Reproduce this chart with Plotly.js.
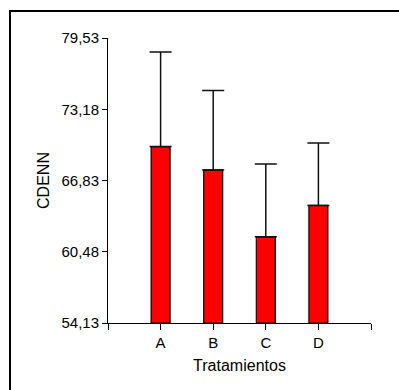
<!DOCTYPE html>
<html>
<head>
<meta charset="utf-8">
<script src="https://cdn.plot.ly/plotly-3.0.1.min.js"></script>
<style>
  html, body { margin: 0; padding: 0; background: #fff; overflow: hidden; }
  #chart { width: 399px; height: 390px; position: absolute; left: 0; top: 0; }
  #frame { position: absolute; left: 9px; top: 10px; width: 500px; height: 500px;
           border: 2px solid #000; pointer-events: none; }
</style>
</head>
<body>
<div id="chart"></div>
<div id="frame"></div>
<script>
const categories = ["A", "B", "C", "D"];
const means = [69.85, 67.77, 61.81, 64.61];
const errorsUp = [8.43, 7.08, 6.49, 5.57];
const yTickValues = [54.13, 60.48, 66.83, 73.18, 79.53];
const yTickLabels = ["54,13", "60,48", "66,83", "73,18", "79,53"];

const xIdx = categories.map((c, i) => i);
const xTickVals = [-1].concat(xIdx, [categories.length]);
const xTickText = [""].concat(categories, [""]);

const trace = {
  type: "bar",
  x: xIdx,
  y: means.map(v => v - yTickValues[0]),
  base: yTickValues[0],
  width: 0.36,
  marker: { color: "#FF0000", line: { color: "#000", width: 1.2 } },
  error_y: {
    type: "data", symmetric: false,
    array: errorsUp, arrayminus: means.map(() => 0),
    color: "#111", thickness: 1.5, width: 11
  },
  hoverinfo: "skip"
};

const font = { family: "Liberation Sans, Arial, sans-serif", color: "#000" };

const layout = {
  width: 399, height: 390,
  margin: { l: 108, r: 28, t: 38, b: 67 },
  paper_bgcolor: "#fff", plot_bgcolor: "#fff",
  showlegend: false,
  font: Object.assign({ size: 15 }, font),
  xaxis: {
    range: [-1, categories.length],
    tickmode: "array", tickvals: xTickVals, ticktext: xTickText,
    ticks: "outside", ticklen: 6, tickwidth: 1, tickcolor: "#000",
    showline: true, linecolor: "#000", linewidth: 1,
    showgrid: false, zeroline: false,
    tickfont: Object.assign({ size: 15 }, font),
    title: { text: "Tratamientos", font: Object.assign({ size: 16 }, font), standoff: 9 }
  },
  yaxis: {
    range: [yTickValues[0], yTickValues[yTickValues.length - 1]],
    tickmode: "array", tickvals: yTickValues, ticktext: yTickLabels,
    ticks: "outside", ticklen: 5, tickwidth: 1, tickcolor: "#000",
    showline: true, linecolor: "#000", linewidth: 1,
    showgrid: false, zeroline: false,
    tickfont: Object.assign({ size: 15 }, font),
    title: { text: "CDENN", font: Object.assign({ size: 16 }, font), standoff: 7 }
  }
};

Plotly.newPlot("chart", [trace], layout, { staticPlot: true, displayModeBar: false });
</script>
</body>
</html>
